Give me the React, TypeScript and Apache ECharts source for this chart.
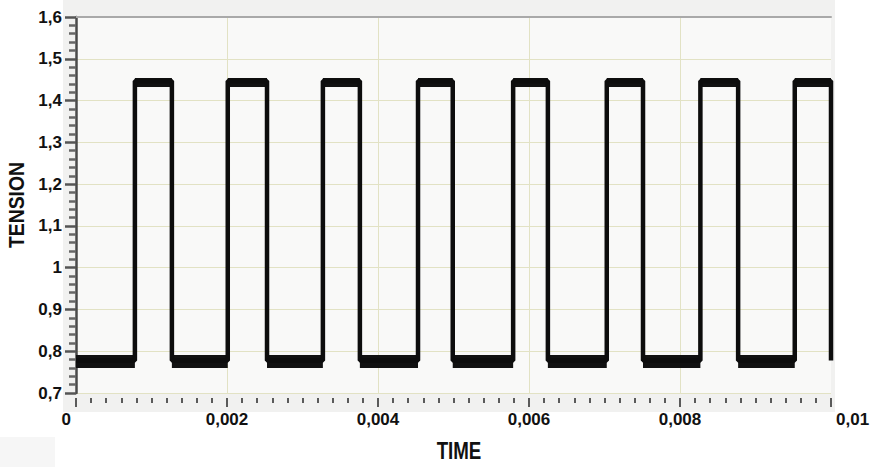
import React, { useEffect, useRef } from "react";
import * as echarts from "echarts";

// ---- data ----
const risingEdges = [0.00078, 0.00201, 0.00327, 0.00453, 0.00579, 0.00703, 0.00827, 0.00952];
const fallingEdges = [0.00127, 0.00253, 0.00376, 0.00499, 0.00625, 0.00751, 0.00877, 0.01];
const lowLevel = 0.778;
const highLevel = 1.447;
const lowBandLevel = 0.777;
const highBandLevel = 1.445;

const xMin = 0;
const xMax = 0.01;
const xStep = 0.002;
const yMin = 0.7;
const yMax = 1.6;
const yStep = 0.1;
const xTitle = "TIME";
const yTitle = "TENSION";

const toComma = (v: number) => String(v).replace(".", ",");

export default function App() {
  const ref = useRef<HTMLDivElement>(null);

  useEffect(() => {
    if (!ref.current) return;
    const chart = echarts.init(ref.current, undefined, { renderer: "svg" });

    const wave: number[][] = [[xMin, lowLevel]];
    risingEdges.forEach((r, i) => {
      const f = fallingEdges[i];
      wave.push([r, lowLevel], [r, highLevel], [f, highLevel], [f, lowLevel]);
    });

    const lowBands: any[] = [];
    const highBands: any[] = [];
    let prev = xMin;
    risingEdges.forEach((r, i) => {
      lowBands.push({ coords: [[prev, lowBandLevel], [r, lowBandLevel]] });
      highBands.push({ coords: [[r, highBandLevel], [fallingEdges[i], highBandLevel]] });
      prev = fallingEdges[i];
    });
    if (prev < xMax) lowBands.push({ coords: [[prev, lowBandLevel], [xMax, lowBandLevel]] });

    const labelFont = {
      fontFamily: "Liberation Sans, Arial, sans-serif",
      fontWeight: "bold" as const,
      fontSize: 17,
      color: "#111",
    };
    const titleStyle = {
      fontFamily: "Liberation Sans, Arial, sans-serif",
      fontWeight: "bold" as const,
      fill: "#111",
      textAlign: "center" as const,
      textVerticalAlign: "middle" as const,
    };

    chart.setOption({
      animation: false,
      backgroundColor: "#ffffff",
      graphic: [
        { type: "rect", z: -10, silent: true, shape: { x: 63, y: 0, width: 772, height: 412 }, style: { fill: "#f1f1f0" } },
        { type: "rect", z: -9, silent: true, shape: { x: 76, y: 17, width: 755, height: 376 }, style: { fill: "#f9f9f8" } },
        { type: "rect", z: -10, silent: true, shape: { x: 0, y: 437, width: 55, height: 30 }, style: { fill: "#f6f6f6" } },
        {
          type: "text",
          silent: true,
          x: 459,
          y: 451,
          scaleX: 0.78,
          style: { ...titleStyle, text: xTitle, fontSize: 24 },
        },
        {
          type: "text",
          silent: true,
          x: 16,
          y: 205,
          rotation: Math.PI / 2,
          scaleX: 0.88,
          style: { ...titleStyle, text: yTitle, fontSize: 22 },
        },
      ],
      grid: { left: 76, right: 43, top: 17, bottom: 74, containLabel: false },
      xAxis: [
        {
          type: "value",
          min: xMin,
          max: xMax,
          interval: xStep,
          position: "bottom",
          offset: 5,
          axisLine: { show: false },
          axisTick: { show: true, length: 9, lineStyle: { color: "#5a5a5a", width: 2 } },
          minorTick: { show: true, splitNumber: 10, length: 5, lineStyle: { color: "#5a5a5a", width: 2 } },
          axisLabel: {
            ...labelFont,
            margin: 13,
            formatter: toComma,
            alignMinLabel: "right",
            alignMaxLabel: "left",
            padding: [0, 5, 0, 5],
          },
          splitLine: { show: true, showMinLine: false, showMaxLine: false, lineStyle: { color: "#e2e2c4", width: 1 } },
          minorSplitLine: { show: false },
        },
        {
          type: "value",
          min: xMin,
          max: xMax,
          interval: xStep,
          position: "top",
          axisLine: { show: true, lineStyle: { color: "#a9a9a9", width: 2 } },
          axisTick: { show: false },
          axisLabel: { show: false },
          splitLine: { show: false },
        },
      ],
      yAxis: {
        type: "value",
        min: yMin,
        max: yMax,
        interval: yStep,
        axisLine: { show: true, lineStyle: { color: "#4a4a4a", width: 2.5 } },
        axisTick: { show: true, length: 11, lineStyle: { color: "#555", width: 2.5 } },
        minorTick: { show: true, splitNumber: 5, length: 7, lineStyle: { color: "#666", width: 2.5 } },
        axisLabel: { ...labelFont, margin: 14, formatter: (v: number) => toComma(Math.round(v * 10) / 10) },
        splitLine: { show: true, lineStyle: { color: "#e2e2c4", width: 1 } },
      },
      series: [
        {
          type: "lines",
          coordinateSystem: "cartesian2d",
          xAxisIndex: 0,
          yAxisIndex: 0,
          data: lowBands,
          silent: true,
          z: 3,
          lineStyle: { color: "#111", width: 13, opacity: 1, cap: "butt", curveness: 0 },
        },
        {
          type: "lines",
          coordinateSystem: "cartesian2d",
          xAxisIndex: 0,
          yAxisIndex: 0,
          data: highBands,
          silent: true,
          z: 3,
          lineStyle: { color: "#111", width: 9, opacity: 1, cap: "butt", curveness: 0 },
        },
        {
          type: "line",
          xAxisIndex: 0,
          yAxisIndex: 0,
          data: wave,
          symbol: "none",
          showSymbol: false,
          clip: false,
          z: 4,
          lineStyle: { color: "#0d0d0d", width: 4.5 },
        },
      ],
    });

    return () => chart.dispose();
  }, []);

  return (
    <div
      ref={ref}
      style={{ position: "fixed", left: 0, top: 0, width: 874, height: 467 }}
    />
  );
}
